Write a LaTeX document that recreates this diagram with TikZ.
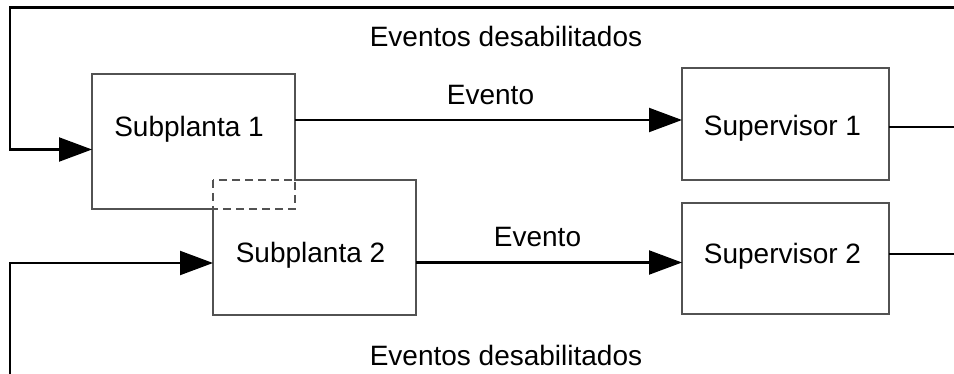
\documentclass[tikz,border=0pt]{standalone}
\usepackage{fontspec}
\setmainfont{Liberation Sans}
\usetikzlibrary{arrows.meta}
\begin{document}
\begin{tikzpicture}[x=1pt,y=1pt,
  blockbox/.style={draw=none,minimum width=#1,inner sep=0pt,outer sep=0pt},
  boxline/.style={draw=black!68,line width=1.1pt},
  dashline/.style={draw=black!68,line width=1.1pt,dash pattern=on 8pt off 5pt},
  conn/.style={draw=black,line width=2.1pt},
  arrowconn/.style={conn,-{Triangle[length=33pt,width=24pt]}},
  lbl/.style={anchor=base,inner sep=0pt,font=\fontsize{28}{34}\selectfont}]
\useasboundingbox (0,0) rectangle (954,-374);

% plant and supervisor blocks
\node[blockbox=203pt,minimum height=135pt] (p1) at (193.5,-141.5) {};
\node[blockbox=203pt,minimum height=135pt] (p2) at (314.5,-247.5) {};
\node[blockbox=207pt,minimum height=112pt,boxline] (s1) at (785.5,-124) {};
\node[blockbox=207pt,minimum height=111pt,boxline] (s2) at (785.5,-258.5) {};

% outline of the two overlapping plants, with the shared part dashed
\draw[boxline] (p1.north west) -- (p1.north east) -- (p1.east |- p2.north)
  -- (p2.north east) -- (p2.south east) -- (p2.south west)
  -- (p2.west |- p1.south) -- (p1.south west) -- cycle;
\draw[dashline] (p2.north west) rectangle (p1.south east);

% block labels
\node[lbl] (t1) at (189,-136.5) {Subplanta 1};
\node[lbl] (t2) at (310.5,-262.5) {Subplanta 2};
\node[lbl] (t3) at (782.5,-136) {Supervisor 1};
\node[lbl] (t4) at (782.5,-263.5) {Supervisor 2};

% event connections
\draw[arrowconn] (p1.east |- 0,-120) -- (s1.west |- 0,-120);
\draw[arrowconn] (p2.east |- 0,-262.5) -- (s2.west |- 0,-262.5);
\node[lbl] (e1) at (490.5,-105) {Evento};
\node[lbl] (e2) at (537.5,-247) {Evento};

% supervisor outputs and disabled-event feedback
\coordinate (o1) at (954,-127);
\coordinate (o2) at (954,-254);
\draw[conn] (s1.east |- o1) -- (o1);
\draw[conn] (s2.east |- o2) -- (o2);
\coordinate (fbtop) at (954,-7.5);
\coordinate (fbbot) at (10,-374);
\draw[arrowconn] (fbtop) -- (10,-7.5) -- (10,-149.5) -- (p1.west |- 0,-149.5);
\draw[arrowconn] (fbbot) -- (10,-263) -- (p2.west |- 0,-263);
\node[lbl] (d1) at (506,-46.5) {Eventos desabilitados};
\node[lbl] (d2) at (506,-366) {Eventos desabilitados};
\end{tikzpicture}
\end{document}
